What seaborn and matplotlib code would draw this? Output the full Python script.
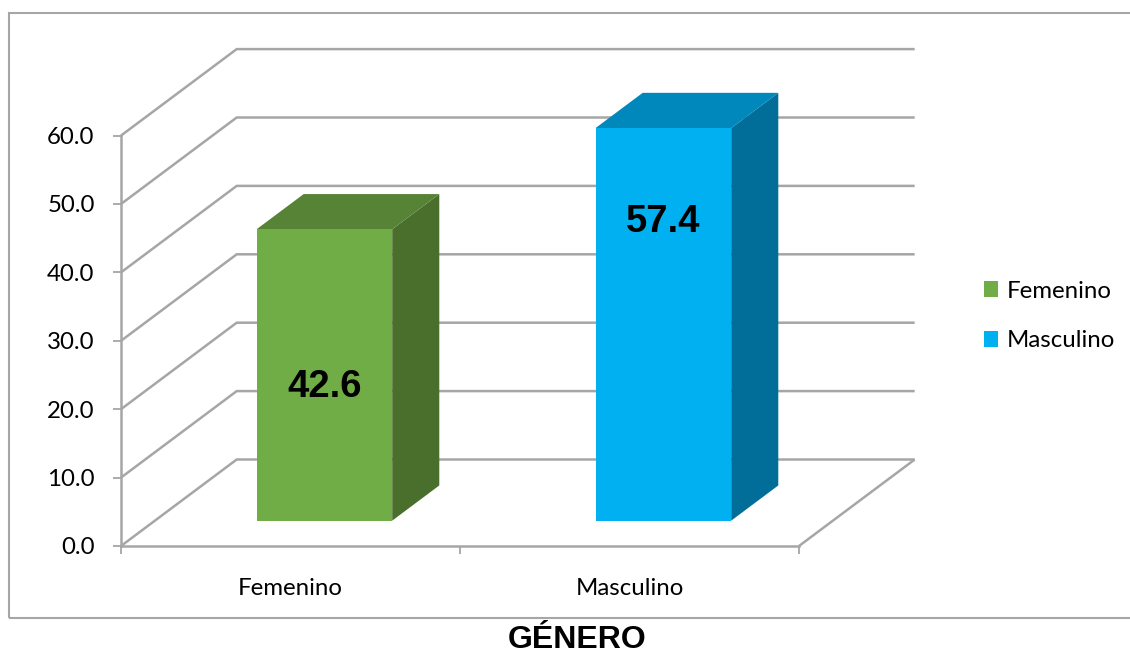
import matplotlib
matplotlib.use("Agg")
import matplotlib.pyplot as plt
from matplotlib.patches import Polygon, Rectangle, Patch
import seaborn as sns
import pandas as pd

# ---- data -------------------------------------------------------------
categories = ["Femenino", "Masculino"]
values = [42.6, 57.4]
value_labels = ["42.6", "57.4"]
y_ticks = [0, 10, 20, 30, 40, 50, 60]
y_tick_labels = ["0.0", "10.0", "20.0", "30.0", "40.0", "50.0", "60.0"]
axis_title = "GÉNERO"

# ---- style ------------------------------------------------------------
front_colors = ["#70AD47", "#00B0F0"]
top_colors = ["#568336", "#0087BC"]
side_colors = ["#4A6E2B", "#006E98"]
label_heights = [0.46, 0.76]       # data label position as a fraction of bar height
grid_color = "#A6A6A6"
label_size = 17.3
bold_family = ["Liberation Sans", "DejaVu Sans"]

sns.set_style("white")
plt.rcParams["font.family"] = ["Lato", "DejaVu Sans"]
plt.rcParams["text.color"] = "black"

W, H = 1130, 653
fig = plt.figure(figsize=(W / 100, H / 100), dpi=100)

# front plane of the 3-D box, in pixels
px_per_cat = 339.0
px_per_unit = 6.84
ax_left, ax_zero, ax_right, ax_top = 121, 546, 916, 40
ax = fig.add_axes([ax_left / W, (H - ax_zero) / H,
                   (ax_right - ax_left) / W, (ax_zero - ax_top) / H])

# oblique depth of the back wall, in data units
DX = 115.7 / px_per_cat
DY = 86.5 / px_per_unit
BAR_Z0, BAR_Z1 = 0.293, 0.70

df = pd.DataFrame({"genero": categories, "pct": values})
sns.barplot(data=df, x="genero", y="pct", hue="genero", palette=front_colors,
            saturation=1, width=0.4, legend=False, ax=ax, zorder=3)

ax.set_xlim(-0.5, -0.5 + (ax_right - ax_left) / px_per_cat)
ax.set_ylim(0, (ax_zero - ax_top) / px_per_unit)
ax.set_xlabel("")
ax.set_ylabel("")
ax.patch.set_alpha(0)

# back wall gridlines + left wall diagonals
grid_kw = dict(color=grid_color, lw=1.8, zorder=1, clip_on=False,
               solid_capstyle="butt", solid_joinstyle="miter")
for v in y_ticks:
    ax.plot([-0.5, -0.5 + DX, 1.5 + DX], [v, v + DY, v + DY], **grid_kw)
ax.plot([1.5, 1.5 + DX], [0, DY], **grid_kw)

# extrude the seaborn bars into boxes
bars = sorted(ax.patches, key=lambda p: p.get_x())
ddx = (BAR_Z1 - BAR_Z0) * DX
ddy = (BAR_Z1 - BAR_Z0) * DY
for bar, top_c, side_c, lab, frac in zip(bars, top_colors, side_colors,
                                         value_labels, label_heights):
    w, h = bar.get_width(), bar.get_height()
    x0 = bar.get_x() + BAR_Z0 * DX
    y0 = bar.get_y() + BAR_Z0 * DY
    bar.set_x(x0)
    bar.set_y(y0)
    bar.set_edgecolor("none")
    bar.set_clip_on(False)
    side = Polygon([(x0 + w, y0), (x0 + w + ddx, y0 + ddy),
                    (x0 + w + ddx, y0 + h + ddy), (x0 + w, y0 + h)],
                   closed=True, fc=side_c, ec="none", zorder=2.9, clip_on=False)
    top = Polygon([(x0, y0 + h), (x0 + ddx, y0 + h + ddy),
                   (x0 + w + ddx, y0 + h + ddy), (x0 + w, y0 + h)],
                  closed=True, fc=top_c, ec="none", zorder=2.9, clip_on=False)
    ax.add_patch(side)
    ax.add_patch(top)
    ax.text(x0 + w / 2, y0 + frac * h, lab, ha="center", va="center",
            fontsize=27.5, fontweight="bold", color="black", zorder=5,
            family=bold_family)

# front axes
for s in ["top", "right"]:
    ax.spines[s].set_visible(False)
for s in ["left", "bottom"]:
    ax.spines[s].set_color(grid_color)
    ax.spines[s].set_linewidth(1.8)
    ax.spines[s].set_zorder(2)
ax.spines["left"].set_bounds(0, 60)
ax.spines["bottom"].set_bounds(-0.5, 1.5)

ax.set_yticks(y_ticks, y_tick_labels)
ax.set_xticks([0, 1], categories)
ax.set_xticks([-0.5, 0.5, 1.5], minor=True)
ax.tick_params(axis="y", which="major", left=True, length=6, width=1.3,
               color=grid_color, pad=13, labelsize=label_size, labelcolor="black")
ax.tick_params(axis="x", which="major", bottom=True, length=0, pad=23,
               labelsize=label_size, labelcolor="black")
ax.tick_params(axis="x", which="minor", bottom=True, length=6, width=1.3,
               color=grid_color)

# legend
handles = [Patch(facecolor=c, edgecolor="none", label=l)
           for c, l in zip(front_colors, categories)]
fig.legend(handles=handles, loc="center left",
           bbox_to_anchor=(972 / W, 1 - 316 / H), frameon=False,
           fontsize=label_size, handlelength=0.6, handleheight=0.6,
           handletextpad=0.35, labelspacing=1.2, borderpad=0)

# chart border and title
fig.patches.append(Rectangle((8.5 / W, 1 - 617.5 / H), (W + 10 - 8.5) / W,
                             (617.5 - 13) / H, transform=fig.transFigure,
                             fill=False, edgecolor=grid_color, lw=1.5))
fig.text(577 / W, 1 - 639.5 / H, axis_title, ha="center", va="center",
         fontsize=23, fontweight="bold", color="black", family=bold_family)

fig.savefig("out.png", dpi=100)
